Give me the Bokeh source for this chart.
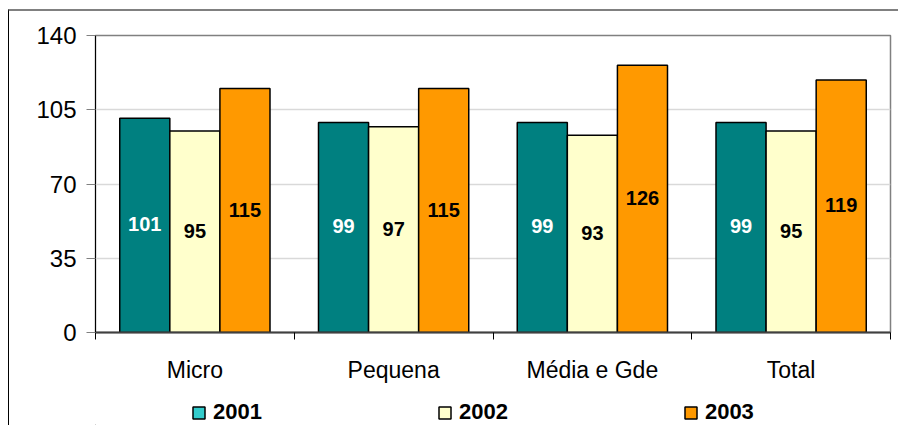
from bokeh.plotting import figure
from bokeh.layouts import column
from bokeh.models import Range1d, FixedTicker, Legend, LegendItem, ColumnDataSource
from bokeh.embed import file_html
from bokeh.resources import INLINE
from bokeh.core.properties import value

categories = ["Micro", "Pequena", "Média e Gde", "Total"]
years = ["2001", "2002", "2003"]
v2001 = [101, 99, 99, 99]
v2002 = [95, 97, 93, 95]
v2003 = [115, 115, 126, 119]
y_ticks = [0, 35, 70, 105, 140]

series = [v2001, v2002, v2003]
bar_colors = ["#008080", "#FFFFCC", "#FF9900"]
legend_colors = ["#33CCCC", "#FFFFCC", "#FF9900"]
label_colors = ["#FFFFFF", "#000000", "#000000"]
FONT = "Liberation Sans"

p = figure(width=889, height=374, x_range=Range1d(0, 4), y_range=Range1d(0, 140),
           output_backend="svg", toolbar_location=None,
           min_border_left=86, min_border_right=8, min_border_top=24, min_border_bottom=52)
p.background_fill_color = "#FFFFFF"
p.border_fill_color = "#FFFFFF"
p.outline_line_color = "#808080"
p.outline_line_width = 1.5

bw = 0.252
for j, vals in enumerate(series):
    off = (j - 1) * bw
    src = ColumnDataSource(dict(
        x=[i + 0.5 + off for i in range(len(categories))],
        top=vals,
        ym=[v / 2 for v in vals],
        txt=[str(v) for v in vals],
    ))
    p.vbar(x="x", top="top", width=bw, source=src, fill_color=bar_colors[j],
           line_color="#000000", line_width=1.5)
    p.text(x="x", y="ym", text="txt", source=src, text_align="center",
           text_baseline="middle", text_font=value(FONT), text_font_style="bold",
           text_font_size="20px", text_color=label_colors[j], y_offset=-1)

# axes
xa = p.xaxis[0]
xa.ticker = FixedTicker(ticks=[0.5, 1.5, 2.5, 3.5], minor_ticks=[0, 1, 2, 3, 4])
xa.major_label_overrides = {0.5: categories[0], 1.5: categories[1],
                            2.5: categories[2], 3.5: categories[3]}
xa.major_tick_out = 0
xa.major_tick_in = 0
xa.minor_tick_out = 7
xa.minor_tick_in = 0
xa.minor_tick_line_color = "#000000"
xa.axis_line_color = "#404040"
xa.axis_line_width = 2
xa.major_label_standoff = 17
xa.major_label_text_font = FONT
xa.major_label_text_font_size = "23px"
xa.major_label_text_color = "#000000"

ya = p.yaxis[0]
ya.ticker = FixedTicker(ticks=y_ticks)
ya.minor_tick_line_color = None
ya.major_tick_out = 9
ya.major_tick_in = 0
ya.major_tick_line_color = "#808080"
ya.axis_line_color = "#000000"
ya.axis_line_width = 1
ya.major_label_standoff = 10
ya.major_label_text_font = FONT
ya.major_label_text_font_size = "24px"
ya.major_label_text_color = "#000000"

p.xgrid.visible = False
p.ygrid.ticker = FixedTicker(ticks=y_ticks)
p.ygrid.grid_line_color = "#D9D9D9"
p.ygrid.grid_line_width = 1.5

# legend strip
p2 = figure(width=889, height=40, x_range=Range1d(0, 1), y_range=Range1d(0, 1),
            output_backend="svg", toolbar_location=None,
            x_axis_type=None, y_axis_type=None, min_border=0)
p2.outline_line_color = None
p2.xgrid.visible = False
p2.ygrid.visible = False
items = []
for j, yr in enumerate(years):
    r = p2.vbar(x=[-10], top=[0], width=0.1, fill_color=legend_colors[j],
                line_color="#000000", line_width=1.5)
    items.append(LegendItem(label=yr, renderers=[r]))

legend = Legend(items=items, location=(96, 0), orientation="horizontal",
                spacing=175, glyph_width=15, glyph_height=15, label_standoff=7,
                padding=0, margin=0, border_line_alpha=0, background_fill_alpha=0,
                label_text_font=FONT, label_text_font_style="bold",
                label_text_font_size="22px", label_text_color="#000000",
                label_height=15)
p2.add_layout(legend)

layout = column(p, p2, spacing=0)
layout.styles = {"border-top": "2px solid #808080", "border-left": "1px solid #000000",
                 "margin-top": "9px", "margin-left": "8px"}

open("out.html", "w").write(file_html(layout, INLINE))
